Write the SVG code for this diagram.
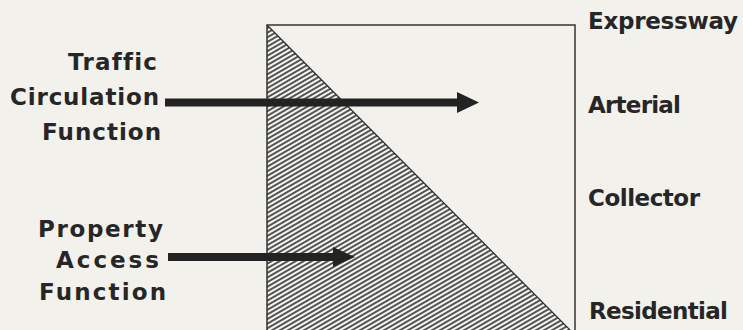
<svg xmlns="http://www.w3.org/2000/svg" width="743" height="330" viewBox="0 0 743 330">
  <style>
    .lbl { font-family: "DejaVu Sans", "Liberation Sans", sans-serif; font-weight: bold; font-size: 23px; fill: #262626; font-variant-ligatures: none; }
    .shaft { stroke: #232323; stroke-width: 8; fill: none; }
    .head { fill: #232323; }
    .box { fill: none; stroke: #333; stroke-width: 1.5; }
  </style>
  <defs>
    <pattern id="hatch" patternUnits="userSpaceOnUse" width="8" height="4" patternTransform="rotate(-30)">
      <rect width="8" height="4" fill="#f6f5f1"/>
      <line x1="0" y1="2" x2="8" y2="2" stroke="#2a2a2a" stroke-width="1.6"/>
    </pattern>
  </defs>
  <rect width="743" height="330" fill="#f3f1ec"/>

  <g id="chart">
    <polygon points="267,25 573,333 267,333" fill="url(#hatch)"/>
    <line x1="267" y1="25" x2="573" y2="333" stroke="#2a2a2a" stroke-width="1.2"/>
    <rect class="box" x="267" y="25" width="308" height="320"/>
  </g>

  <g id="traffic">
    <text class="lbl" x="68" y="70" textLength="89" lengthAdjust="spacing">Traffic</text>
    <text class="lbl" x="10" y="105" textLength="149" lengthAdjust="spacing">Circulation</text>
    <text class="lbl" x="42" y="140" textLength="119" lengthAdjust="spacing">Function</text>
  </g>

  <g id="access">
    <text class="lbl" x="38" y="237" textLength="125" lengthAdjust="spacing">Property</text>
    <text class="lbl" x="56" y="268" textLength="103" lengthAdjust="spacing">Access</text>
    <text class="lbl" x="39" y="300" textLength="127" lengthAdjust="spacing">Function</text>
  </g>

  <g id="classes">
    <text class="lbl" x="588" y="29" textLength="150" lengthAdjust="spacing">Expressway</text>
    <text class="lbl" x="588" y="113" textLength="93" lengthAdjust="spacing">Arterial</text>
    <text class="lbl" x="588" y="206" textLength="112" lengthAdjust="spacing">Collector</text>
    <text class="lbl" x="589" y="319" textLength="139" lengthAdjust="spacing">Residential</text>
  </g>

  <g id="connectors">
    <line class="shaft" x1="165" y1="102.5" x2="460" y2="102.5"/>
    <polygon class="head" points="457,92 479,102.5 457,113"/>
    <line class="shaft" x1="168" y1="257" x2="336" y2="257"/>
    <polygon class="head" points="333,247 355,257 333,267"/>
  </g>
</svg>
